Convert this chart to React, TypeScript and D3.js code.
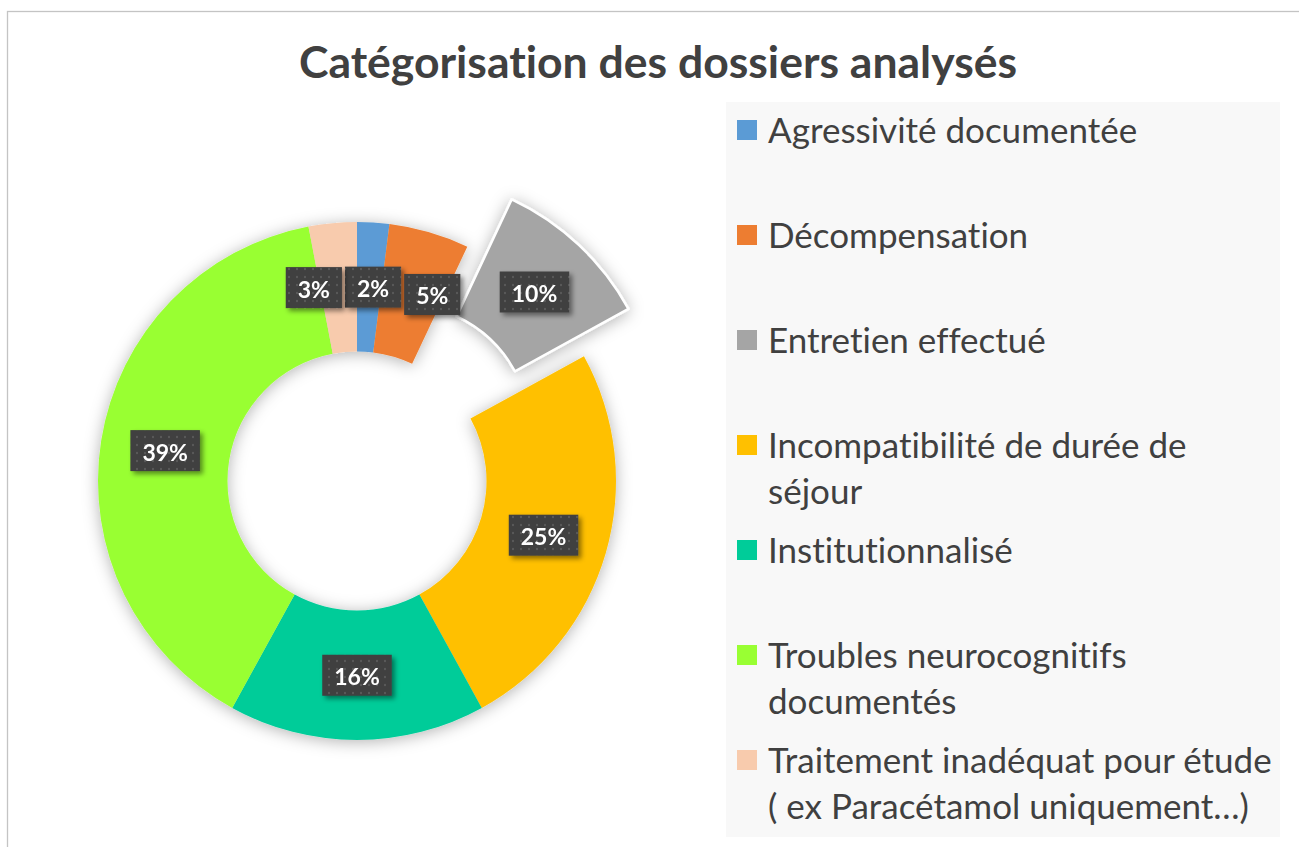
import React, { useEffect, useRef } from 'react';
import * as d3 from 'd3';

const width = 1299;
const height = 847;

const title = 'Catégorisation des dossiers analysés';

const categories = [
  'Agressivité documentée',
  'Décompensation',
  'Entretien effectué',
  'Incompatibilité de durée de séjour',
  'Institutionnalisé',
  'Troubles neurocognitifs documentés',
  'Traitement inadéquat pour étude ( ex Paracétamol uniquement…)',
];

// legend lines as shown (wrapped / truncated like in the original)
const legendLines = [
  ['Agressivité documentée'],
  ['Décompensation'],
  ['Entretien effectué'],
  ['Incompatibilité de durée de', 'séjour'],
  ['Institutionnalisé'],
  ['Troubles neurocognitifs', 'documentés'],
  ['Traitement inadéquat pour étude', '( ex Paracétamol uniquement…)'],
];

const values = [2, 5, 10, 25, 16, 39, 3];

const colors = ['#5B9BD5', '#ED7D31', '#A5A5A5', '#FFC000', '#00CC99', '#99FF33', '#F8CBAD'];

const explodedCategory = 'Entretien effectué';

const FONT = 'Lato, "Open Sans", sans-serif';
const TEXT = '#404040';

const center = { x: 357, y: 481 };
const outerR = 259;
const innerR = 129.5;
const explodeBy = 65;

const legendBox = { x: 726, y: 102, w: 554, h: 735 };

type Slice = d3.PieArcDatum<number> & { name: string; i: number };

export default function App() {
  const ref = useRef<SVGSVGElement>(null);

  useEffect(() => {
    if (!ref.current) return;
    const svg = d3.select(ref.current);
    svg.selectAll('*').remove();

    const defs = svg.append('defs');
    const donutShadow = defs
      .append('filter')
      .attr('id', 'donutShadow')
      .attr('x', '-30%')
      .attr('y', '-30%')
      .attr('width', '160%')
      .attr('height', '160%');
    donutShadow
      .append('feDropShadow')
      .attr('dx', 0)
      .attr('dy', 2)
      .attr('stdDeviation', 8)
      .attr('flood-color', '#000')
      .attr('flood-opacity', 0.3);

    const labelShadow = defs
      .append('filter')
      .attr('id', 'labelShadow')
      .attr('x', '-30%')
      .attr('y', '-30%')
      .attr('width', '160%')
      .attr('height', '160%');
    labelShadow
      .append('feDropShadow')
      .attr('dx', 3)
      .attr('dy', 3)
      .attr('stdDeviation', 2.5)
      .attr('flood-color', '#000')
      .attr('flood-opacity', 0.45);

    const pattern = defs
      .append('pattern')
      .attr('id', 'dots')
      .attr('width', 8)
      .attr('height', 8)
      .attr('patternUnits', 'userSpaceOnUse');
    pattern.append('rect').attr('width', 8).attr('height', 8).attr('fill', '#3f3f3f');
    pattern.append('circle').attr('cx', 4).attr('cy', 4).attr('r', 1.2).attr('fill', '#585858');

    // background + chart border
    svg.append('rect').attr('width', width).attr('height', height).attr('fill', '#fff');
    svg
      .append('rect')
      .attr('x', 7.5)
      .attr('y', 11.5)
      .attr('width', 1400)
      .attr('height', 1000)
      .attr('fill', 'none')
      .attr('stroke', '#c4c4c4')
      .attr('stroke-width', 1.3);

    // title
    svg
      .append('text')
      .attr('x', 658)
      .attr('y', 78)
      .attr('text-anchor', 'middle')
      .attr('font-family', FONT)
      .attr('font-weight', 700)
      .attr('font-size', 44.5)
      .style('font-variant-ligatures', 'none')
      .attr('fill', TEXT)
      .text(title);

    // donut
    const total = d3.sum(values);
    const pie = d3
      .pie<number>()
      .sort(null)
      .value((d) => d);
    const slices: Slice[] = pie(values).map((d, i) => ({ ...d, name: categories[i], i }));
    const arc = d3.arc<Slice>().innerRadius(innerR).outerRadius(outerR);
    const offset = (d: Slice) => {
      if (d.name !== explodedCategory) return [0, 0];
      const a = (d.startAngle + d.endAngle) / 2;
      return [Math.sin(a) * explodeBy, -Math.cos(a) * explodeBy];
    };

    const g = svg.append('g').attr('transform', `translate(${center.x},${center.y})`);
    g.append('g')
      .attr('filter', 'url(#donutShadow)')
      .selectAll('path')
      .data(slices)
      .join('path')
      .attr('d', arc)
      .attr('transform', (d) => `translate(${offset(d)[0]},${offset(d)[1]})`)
      .attr('fill', (d) => colors[d.i])
      .attr('stroke', (d) => (d.name === explodedCategory ? '#fff' : 'none'))
      .attr('stroke-width', 2.5)
      .attr('stroke-linejoin', 'round');

    // data labels
    const fmt = d3.format('.0%');
    const labelG = g.append('g');
    const boxes = slices.map((d) => {
      const [cx, cy] = arc.centroid(d);
      const [ox, oy] = offset(d);
      const grp = labelG.append('g').attr('filter', 'url(#labelShadow)');
      const txt = grp
        .append('text')
        .attr('text-anchor', 'middle')
        .attr('dominant-baseline', 'central')
        .attr('font-family', FONT)
        .attr('font-weight', 700)
        .attr('font-size', 23)
        .attr('fill', '#fff')
        .text(fmt(d.value / total));
      const tw = (txt.node() as SVGTextElement).getComputedTextLength();
      return { grp, txt, x: cx + ox, y: cy + oy, w: tw + 24, h: 41 };
    });

    // push overlapping labels apart horizontally
    for (let iter = 0; iter < 200; iter++) {
      let moved = false;
      for (let a = 0; a < boxes.length; a++) {
        for (let b = a + 1; b < boxes.length; b++) {
          const A = boxes[a];
          const B = boxes[b];
          if (Math.abs(A.y - B.y) >= (A.h + B.h) / 2) continue;
          const ov = (A.w + B.w) / 2 + 3 - Math.abs(A.x - B.x);
          if (ov > 0.01) {
            const dir = B.x > A.x ? 1 : B.x < A.x ? -1 : b > a ? 1 : -1;
            A.x -= (dir * ov) / 2;
            B.x += (dir * ov) / 2;
            moved = true;
          }
        }
      }
      if (!moved) break;
    }

    boxes.forEach((b) => {
      b.grp
        .insert('rect', 'text')
        .attr('x', b.x - b.w / 2)
        .attr('y', b.y - b.h / 2)
        .attr('width', b.w)
        .attr('height', b.h)
        .attr('fill', 'url(#dots)');
      b.txt.attr('x', b.x).attr('y', b.y + 1);
    });

    // legend
    svg
      .append('rect')
      .attr('x', legendBox.x)
      .attr('y', legendBox.y)
      .attr('width', legendBox.w)
      .attr('height', legendBox.h)
      .attr('fill', '#f8f8f8');

    const slot = d3
      .scaleBand<string>()
      .domain(categories)
      .range([legendBox.y, legendBox.y + legendBox.h]);

    const items = svg
      .append('g')
      .selectAll('g')
      .data(categories)
      .join('g')
      .attr('transform', (d) => `translate(${legendBox.x},${(slot(d) ?? 0) + 28})`);

    items
      .append('rect')
      .attr('x', 11)
      .attr('y', -10)
      .attr('width', 20)
      .attr('height', 20)
      .attr('fill', (_, i) => colors[i]);

    items
      .append('text')
      .attr('font-family', FONT)
      .attr('font-size', 35)
      .style('font-variant-ligatures', 'none')
      .attr('fill', TEXT)
      .selectAll('tspan')
      .data((_, i) => legendLines[i])
      .join('tspan')
      .attr('x', 42)
      .attr('y', (_, j) => j * 46)
      .attr('dy', '0.36em')
      .text((t) => t);
  }, []);

  return (
    <svg
      ref={ref}
      width={width}
      height={height}
      style={{ position: 'absolute', left: 0, top: 0 }}
    />
  );
}
